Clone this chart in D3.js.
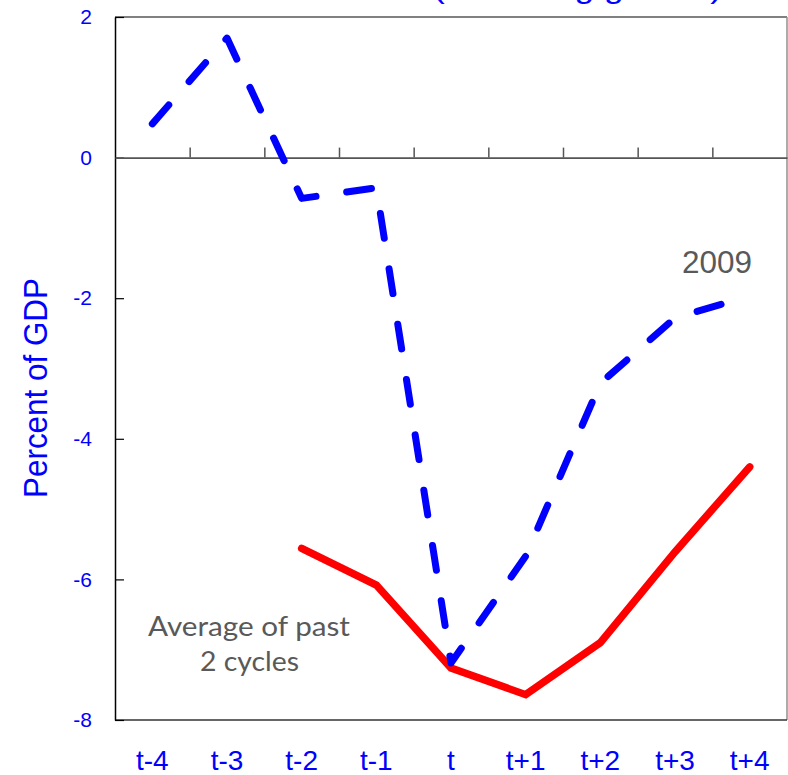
<!DOCTYPE html>
<html>
<head>
<meta charset="utf-8">
<script src="https://cdn.jsdelivr.net/npm/d3@7"></script>
<style>
  html, body { margin: 0; padding: 0; background: #fff; }
  svg { display: block; }
</style>
</head>
<body>
<div id="chart"></div>
<script>
// ---- data ----
const categories = ["t-4", "t-3", "t-2", "t-1", "t", "t+1", "t+2", "t+3", "t+4"];
const series2009 = [0.48, 1.70, -0.58, -0.43, -7.19, -5.67, -3.21, -2.28, -1.97];
const seriesPastAvg = [null, null, -5.56, -6.08, -7.26, -7.64, -6.90, -5.61, -4.40];
const yTicks = [2, 0, -2, -4, -6, -8];
const yTitle = "Percent of GDP";
const label2009 = "2009";
const labelPast = ["Average of past", "2 cycles"];
const titleText = "(Following growth)";

// ---- layout ----
const W = 788, H = 775;
const plot = { left: 115, right: 787, top: 17, bottom: 720 };

const svg = d3.select("#chart").append("svg")
  .attr("width", W).attr("height", H);

const x = d3.scaleBand().domain(categories).range([plot.left, plot.right]).padding(0);
const y = d3.scaleLinear().domain([-8, 2]).range([plot.bottom, plot.top]);
const cx = c => x(c) + x.bandwidth() / 2;

// title (mostly clipped above the window, as in the reference)
svg.append("text")
  .attr("x", 433).attr("y", -2)
  .attr("font-family", "Liberation Sans, Arial, sans-serif")
  .attr("font-size", 30)
  .attr("fill", "#0000ff")
  .attr("textLength", 289).attr("lengthAdjust", "spacingAndGlyphs")
  .text(titleText);

// plot frame
svg.append("line").attr("x1", plot.left).attr("x2", plot.right)
  .attr("y1", plot.top).attr("y2", plot.top)
  .attr("stroke", "#808080").attr("stroke-width", 2);
svg.append("line").attr("x1", plot.right).attr("x2", plot.right)
  .attr("y1", plot.top).attr("y2", plot.bottom)
  .attr("stroke", "#909090").attr("stroke-width", 1.5);
svg.append("line").attr("x1", plot.left).attr("x2", plot.right)
  .attr("y1", plot.bottom).attr("y2", plot.bottom)
  .attr("stroke", "#333").attr("stroke-width", 1.5);

// left axis (ticks inward)
const yAxis = d3.axisLeft(y).tickValues(yTicks).tickSizeInner(-9).tickSizeOuter(0)
  .tickFormat(d => String(d));
const gy = svg.append("g").attr("transform", `translate(${plot.left},0)`).call(yAxis);
gy.attr("font-size", null).attr("font-family", null);
gy.select(".domain").attr("stroke", "#000").attr("stroke-width", 1.5);
gy.selectAll(".tick line").attr("stroke", "#000").attr("stroke-width", 1.2);
gy.selectAll(".tick text")
  .attr("x", -23)
  .style("font-family", "Liberation Sans, Arial, sans-serif")
  .style("font-size", "21px")
  .attr("fill", "#0000ff");

// zero line with category boundary ticks pointing up
const boundaries = categories.slice(1).map(c => x(c));
const zeroAxis = d3.axisTop(d3.scaleLinear().domain([plot.left, plot.right]).range([plot.left, plot.right]))
  .tickValues(boundaries).tickSize(10).tickSizeOuter(0).tickFormat("");
const gz = svg.append("g").attr("transform", `translate(0,${y(0)})`).call(zeroAxis);
gz.select(".domain").attr("stroke", "#555").attr("stroke-width", 1.8);
gz.selectAll(".tick line").attr("stroke", "#555").attr("stroke-width", 1.5);

// x category labels
const xAxis = d3.axisBottom(x).tickSize(0).tickPadding(0);
const gx = svg.append("g").attr("transform", `translate(0,${plot.bottom})`).call(xAxis);
gx.attr("font-size", null).attr("font-family", null);
gx.select(".domain").remove();
gx.selectAll(".tick text")
  .attr("y", 50).attr("dy", 0)
  .style("font-family", "Liberation Sans, Arial, sans-serif")
  .style("font-size", "28px")
  .attr("fill", "#0000ff");

// y title
svg.append("text")
  .attr("transform", `translate(47,388) rotate(-90)`)
  .attr("text-anchor", "middle")
  .attr("font-family", "Liberation Sans, Arial, sans-serif")
  .attr("font-size", 33)
  .attr("fill", "#0000ff")
  .attr("textLength", 220).attr("lengthAdjust", "spacingAndGlyphs")
  .text(yTitle);

// lines
const line = d3.line()
  .defined(d => d.v !== null)
  .x(d => cx(d.c))
  .y(d => y(d.v));

const redData = categories.map((c, i) => ({ c, v: seriesPastAvg[i] }));
const blueData = categories.map((c, i) => ({ c, v: series2009[i] }));

svg.append("path").datum(redData)
  .attr("d", line)
  .attr("fill", "none")
  .attr("stroke", "#ff0000")
  .attr("stroke-width", 7.5)
  .attr("stroke-linejoin", "miter")
  .attr("stroke-linecap", "round");

svg.append("path").datum(blueData)
  .attr("d", line)
  .attr("fill", "none")
  .attr("stroke", "#0000ff")
  .attr("stroke-width", 7)
  .attr("stroke-dasharray", "25,31")
  .attr("stroke-linejoin", "round")
  .attr("stroke-linecap", "round");

// annotations
svg.append("text")
  .attr("x", 682).attr("y", 273)
  .attr("font-family", "Liberation Sans, Arial, sans-serif")
  .attr("font-size", 31)
  .attr("fill", "#595959")
  .attr("textLength", 70).attr("lengthAdjust", "spacingAndGlyphs")
  .text(label2009);

svg.append("text")
  .attr("x", 148).attr("y", 636)
  .attr("font-family", "Lato, Open Sans, sans-serif")
  .attr("font-size", 26)
  .attr("fill", "#595959")
  .attr("textLength", 202).attr("lengthAdjust", "spacingAndGlyphs")
  .text(labelPast[0]);
svg.append("text")
  .attr("x", 200).attr("y", 671)
  .attr("font-family", "Lato, Open Sans, sans-serif")
  .attr("font-size", 26)
  .attr("fill", "#595959")
  .attr("textLength", 99).attr("lengthAdjust", "spacingAndGlyphs")
  .text(labelPast[1]);
</script>
</body>
</html>
